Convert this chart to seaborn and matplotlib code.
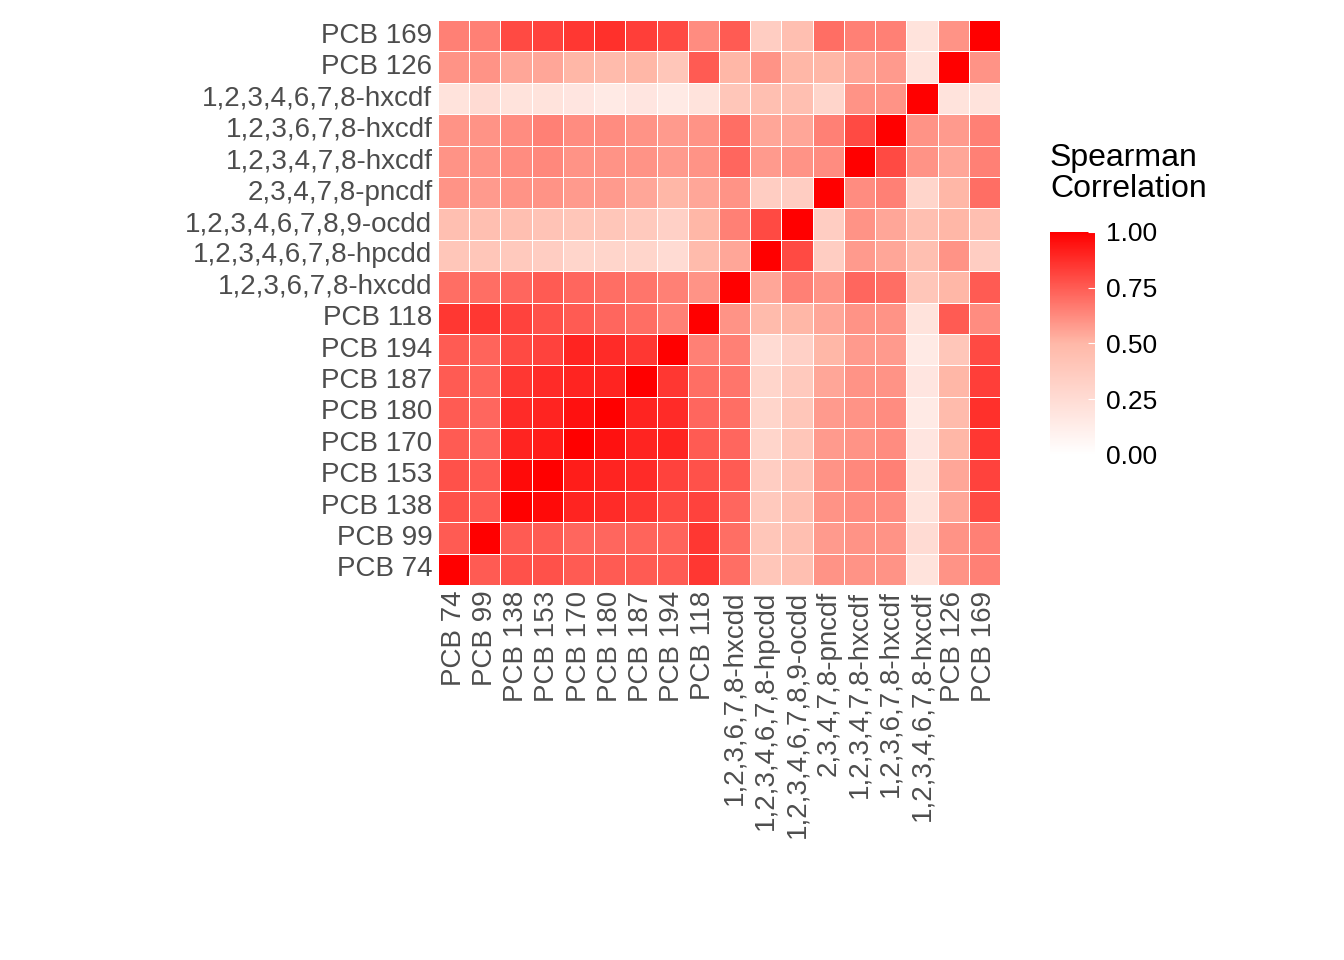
import matplotlib
matplotlib.use("Agg")
import matplotlib.pyplot as plt
import seaborn as sns
import numpy as np
import pandas as pd
from matplotlib.colors import LinearSegmentedColormap

labels = ["PCB 74", "PCB 99", "PCB 138", "PCB 153", "PCB 170", "PCB 180", "PCB 187",
          "PCB 194", "PCB 118", "1,2,3,6,7,8-hxcdd", "1,2,3,4,6,7,8-hpcdd",
          "1,2,3,4,6,7,8,9-ocdd", "2,3,4,7,8-pncdf", "1,2,3,4,7,8-hxcdf",
          "1,2,3,6,7,8-hxcdf", "1,2,3,4,6,7,8-hxcdf", "PCB 126", "PCB 169"]

# lower-triangle rows (row i, columns 0..i)
rows = [
    [1],
    [.75, 1],
    [.78, .75, 1],
    [.78, .75, .97, 1],
    [.75, .72, .90, .92, 1],
    [.75, .72, .88, .90, .95, 1],
    [.75, .73, .85, .88, .90, .90, 1],
    [.75, .73, .80, .82, .90, .88, .85, 1],
    [.85, .85, .82, .78, .75, .72, .70, .65, 1],
    [.70, .70, .72, .75, .72, .70, .68, .65, .60, 1],
    [.40, .40, .38, .35, .30, .30, .30, .25, .48, .55, 1],
    [.45, .45, .45, .42, .40, .40, .38, .33, .50, .65, .80, 1],
    [.60, .58, .60, .60, .58, .58, .55, .50, .55, .60, .35, .35, 1],
    [.60, .60, .62, .63, .60, .60, .60, .58, .60, .72, .58, .60, .62, 1],
    [.60, .60, .62, .65, .62, .62, .60, .58, .60, .70, .55, .55, .65, .80, 1],
    [.20, .25, .20, .20, .18, .15, .18, .15, .20, .40, .45, .45, .30, .60, .60, 1],
    [.60, .60, .55, .55, .50, .48, .50, .40, .75, .50, .60, .50, .50, .55, .58, .20, 1],
    [.65, .65, .80, .82, .85, .87, .83, .80, .62, .75, .35, .45, .70, .65, .65, .20, .60, 1],
]

n = len(labels)
corr = np.zeros((n, n))
for i, r in enumerate(rows):
    for j, v in enumerate(r):
        corr[i, j] = v
        corr[j, i] = v
df = pd.DataFrame(corr, index=labels, columns=labels)

plt.rcParams['font.family'] = ['Liberation Sans', 'DejaVu Sans']
fig = plt.figure(figsize=(13.44, 9.6), dpi=100)
ax = fig.add_axes([438 / 1344, 1 - 585 / 960, 562 / 1344, 565 / 960])
cax = fig.add_axes([1050 / 1344, 1 - 455 / 960, 45 / 1344, 223 / 960])

cmap = LinearSegmentedColormap.from_list("wr", ["#FFFFFF", "#FFB8A8", "#FF0000"])
sns.heatmap(df, ax=ax, cbar_ax=cax, cmap=cmap, vmin=0, vmax=1,
            linewidths=0.5, linecolor="white")
ax.invert_yaxis()
ax.tick_params(length=0, labelsize=20, labelcolor="#4D4D4D", pad=4)
ax.set_xticklabels(labels, rotation=90)
ax.set_yticklabels(labels, rotation=0)
ax.set_xlabel("")
ax.set_ylabel("")

cax.set_yticks([0, .25, .5, .75, 1])
cax.set_yticklabels(["0.00", "0.25", "0.50", "0.75", "1.00"])
cax.tick_params(labelsize=19, length=5, color="white", direction="in", pad=8)
for s in cax.spines.values():
    s.set_visible(False)
fig.text(1050 / 1344, 1 - 143 / 960, "Spearman\nCorrelation", fontsize=23,
         va="top", ha="left", linespacing=1.05)

fig.savefig("out.png", dpi=100)
